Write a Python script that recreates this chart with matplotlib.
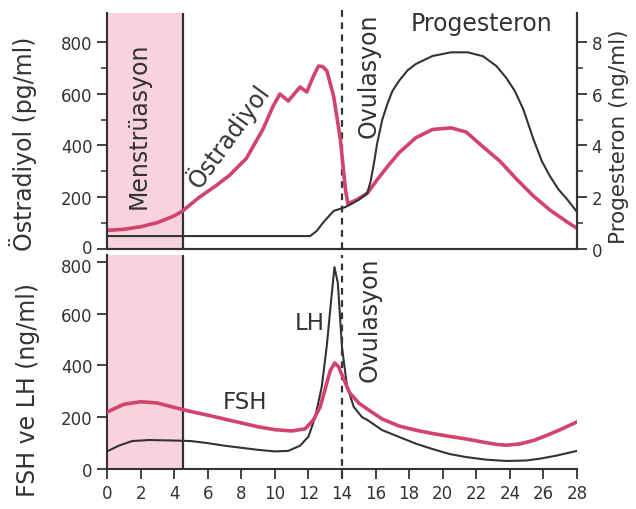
import matplotlib
matplotlib.use("Agg")
import matplotlib.pyplot as plt
import matplotlib.transforms as mtransforms
import numpy as np

# ---------------- data ----------------
e2_days = [0, 1, 2, 3, 4, 4.5, 5.5, 6.5, 7.3, 8.3, 9.3, 9.9, 10.3, 10.8, 11.5, 11.9, 12.3,
           12.6, 12.85, 13.1, 13.5, 13.9, 14.2, 14.35, 14.95, 15.5, 16.1, 16.7, 17.4, 18.4,
           19.4, 20.5, 21.4, 22.4, 23.4, 24.4, 25.4, 26.4, 27.4, 28]
e2_vals = [72, 76, 86, 102, 128, 147, 200, 245, 285, 350, 464, 553, 599, 572, 626, 607, 668,
           707, 705, 688, 591, 425, 232, 174, 193, 215, 268, 318, 372, 430,
           462, 468, 452, 395, 340, 270, 205, 150, 105, 80]

p_days = [0, 12.1, 12.5, 12.9, 13.5, 14.2, 14.5, 15.0, 15.5, 15.7, 15.9, 16.1, 16.4, 16.7,
          17.0, 17.4, 17.9, 18.4, 19.4, 20.5, 21.5, 22.4, 23.2, 23.8, 24.3, 24.8, 25.4,
          25.9, 26.4, 26.9, 27.4, 28]
p_vals = [0.5, 0.5, 0.7, 1.04, 1.47, 1.62, 1.72, 1.9, 2.15, 2.6, 3.3, 4.1, 5.0, 5.6,
          6.1, 6.5, 6.9, 7.15, 7.46, 7.6, 7.6, 7.45, 7.07, 6.6, 6.1, 5.4, 4.25,
          3.4, 2.8, 2.3, 1.93, 1.43]

fsh_days = [0, 1, 2, 3, 4, 5, 6, 7, 8, 9, 10, 11, 11.8, 12.3, 12.7, 13.0, 13.3, 13.57, 13.8,
            14.05, 14.45, 15.0, 15.5, 16.4, 17.4, 18.4, 19.4, 20.4, 21.4, 22.4, 23.2, 23.8,
            24.6, 25.4, 26.2, 27.0, 28]
fsh_vals = [220, 250, 260, 255, 238, 222, 208, 193, 178, 163, 152, 147, 155, 190, 240, 310,
            380, 410, 395, 355, 295, 255, 232, 193, 166, 150, 137, 126, 116, 104, 95, 92,
            97, 110, 130, 152, 182]

lh_days = [0, 0.7, 1.5, 2.5, 4, 5, 6, 7, 8, 9, 10, 10.8, 11.5, 12.0, 12.4, 12.8, 13.1, 13.35,
           13.55, 13.75, 14.0, 14.3, 14.7, 15.2, 15.5, 16.4, 17.4, 18.4, 19.4, 20.4, 21.4,
           22.6, 23.8, 25.0, 25.8, 26.8, 28]
lh_vals = [68, 90, 108, 112, 110, 108, 100, 90, 82, 74, 68, 70, 90, 125, 200, 320, 480, 650,
           780, 720, 470, 320, 240, 200, 190, 150, 124, 98, 77, 58, 46, 36, 31, 33, 40, 52, 70]

x_ticks = list(range(0, 29, 2))
left_ticks_top = [0, 200, 400, 600, 800]
right_ticks = [0, 2, 4, 6, 8]
left_ticks_bottom = [0, 200, 400, 600, 800]

menses_end = 4.5
ovulation_day = 14

# ---------------- style ----------------
plt.rcParams['font.family'] = ['DejaVu Sans']
PINK = '#d2436e'
SHADE = '#f8d3dd'
DARK = '#333333'
LAB = 17
TICK = 12

W, H = 636, 510
fig = plt.figure(figsize=(W / 100, H / 100), dpi=100)

def rect(l, t, r, b):
    return [l / W, 1 - b / H, (r - l) / W, (b - t) / H]

ax1 = fig.add_axes(rect(107, 14, 577, 250))
ax2 = fig.add_axes(rect(107, 256, 577, 470))
ax1r = ax1.twinx()

for ax in (ax1, ax2):
    ax.set_xlim(0, 28)
    ax.axvspan(0, menses_end, color=SHADE, zorder=0, lw=0)
    ax.axvline(menses_end, color=DARK, lw=1.6, zorder=3)
    for s in ax.spines.values():
        s.set_color(DARK)
        s.set_linewidth(1.5)
    ax.tick_params(colors=DARK, labelsize=TICK, length=7, width=1.3, direction='out')

# top panel
ax1.set_ylim(0, 912)
ax1r.set_ylim(0, 9.12)
ax1.plot(e2_days, e2_vals, color=PINK, lw=2.6, solid_joinstyle='round', zorder=4)
ax1r.plot(p_days, p_vals, color=DARK, lw=1.5, solid_joinstyle='round', zorder=3)
ax1.axvline(ovulation_day, ymin=0, ymax=1.02, color=DARK, lw=1.6, ls=(0, (3, 2.5)),
            clip_on=False, zorder=3)
ax1.spines['top'].set_visible(False)
ax1.set_xticks([])
ax1.set_yticks(left_ticks_top)
ax1.set_yticks([100, 300, 500, 700], minor=True)
ax1.tick_params(axis='y', which='minor', length=4, width=1.1, colors=DARK)
ax1.set_ylabel('Östradiyol (pg/ml)', fontsize=LAB, color=DARK)
ax1.yaxis.set_label_coords(-0.149, 0.449)

ax1r.spines['top'].set_visible(False)
for s in ax1r.spines.values():
    s.set_color(DARK)
    s.set_linewidth(1.5)
ax1r.set_yticks(right_ticks)
ax1r.set_yticks([1, 3, 5, 7], minor=True)
ax1r.tick_params(axis='y', which='major', colors=DARK, labelsize=TICK, length=7, width=1.3)
ax1r.tick_params(axis='y', which='minor', length=4, width=1.1, colors=DARK)
ax1r.set_ylabel('Progesteron (ng/ml)', fontsize=15.5, color=DARK)
ax1r.yaxis.set_label_coords(1.069, 0.479)

ax1.text(1.9, 480, 'Menstrüasyon', rotation=90, fontsize=LAB, color=DARK,
         ha='center', va='center', zorder=5)
ax1.text(7.2, 440, 'Östradiyol', rotation=54, fontsize=LAB, color=DARK,
         ha='center', va='center', zorder=5)
ax1.text(15.6, 915, 'Ovulasyon', rotation=90, fontsize=LAB, color=DARK,
         ha='center', va='top', zorder=5)
ax1.text(22.3, 875, 'Progesteron', fontsize=LAB, color=DARK,
         ha='center', va='center', zorder=5)

# bottom panel
ax2.set_ylim(0, 827)
ax2.plot(fsh_days, fsh_vals, color=PINK, lw=2.6, solid_joinstyle='round', zorder=4)
ax2.plot(lh_days, lh_vals, color=DARK, lw=1.5, solid_joinstyle='round', zorder=3)
ax2.axvline(ovulation_day, ymin=-0.04, ymax=1.0, color=DARK, lw=1.6, ls=(0, (3, 2.5)),
            clip_on=False, zorder=3)
ax2.spines['top'].set_visible(False)
ax2.spines['right'].set_visible(False)
ax2.set_xticks(x_ticks)
ax2.set_yticks(left_ticks_bottom)
ax2.set_ylabel('FSH ve LH (ng/ml)', fontsize=LAB, color=DARK)
ax2.yaxis.set_label_coords(-0.1426, 0.374)

ax2.text(12.1, 568, 'LH', fontsize=16.5, color=DARK, ha='center', va='center', zorder=5)
ax2.text(8.2, 262, 'FSH', fontsize=16.5, color=DARK, ha='center', va='center', zorder=5)
ax2.text(15.65, 820, 'Ovulasyon', rotation=90, fontsize=LAB, color=DARK,
         ha='center', va='top', zorder=5)

# nudge the two touching tick labels ("0" of top, "800" of bottom) slightly apart
t0 = ax1.yaxis.get_major_ticks()[0].label1
t0.set_transform(t0.get_transform() + mtransforms.ScaledTranslation(0, 2.5 / 72, fig.dpi_scale_trans))
t8 = ax2.yaxis.get_major_ticks()[-1].label1
t8.set_transform(t8.get_transform() + mtransforms.ScaledTranslation(0, -2.5 / 72, fig.dpi_scale_trans))

fig.savefig('out.png', dpi=100)
